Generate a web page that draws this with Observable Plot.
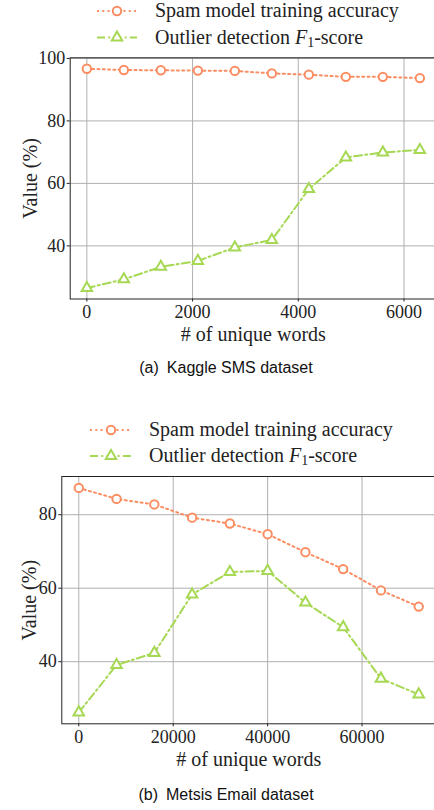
<!DOCTYPE html>
<html>
<head>
<meta charset="utf-8">
<script src="https://cdn.jsdelivr.net/npm/d3@7"></script>
<script src="https://cdn.jsdelivr.net/npm/@observablehq/plot@0.6"></script>
<style>
  html, body { margin: 0; padding: 0; background: #fff; }
  body { width: 434px; height: 810px; overflow: hidden; position: relative; }
  .abs { position: absolute; left: 0; }
  .caption { position: absolute; left: 0; width: 452px; text-align: center; font-family: "Liberation Sans", Arial, sans-serif; font-size: 16px; color: #111; white-space: pre; }
  #chart1 svg, #chart2 svg, #chart1 svg text, #chart2 svg text { font-family: "Liberation Serif", "Times New Roman", serif !important; }
  [aria-label="x-axis label"], [aria-label="y-axis label"] { font-size: 20px; }
</style>
</head>
<body>
<div id="leg1" class="abs" style="top:0"></div>
<div id="chart1" class="abs" style="top:0"></div>
<div id="cap1" class="caption"></div>
<div id="leg2" class="abs" style="top:400px"></div>
<div id="chart2" class="abs" style="top:400px"></div>
<div id="cap2" class="caption"></div>
<script>
// ---- data ----
const xSms = [0, 700, 1400, 2100, 2800, 3500, 4200, 4900, 5600, 6300];
const accSms = [96.7, 96.3, 96.2, 96.1, 96.0, 95.2, 94.8, 94.1, 94.1, 93.7];
const f1Sms = [26.5, 29.3, 33.3, 35.2, 39.5, 41.9, 58.2, 68.3, 69.9, 70.7];
const xEmail = [0, 8000, 16000, 24000, 32000, 40000, 48000, 56000, 64000, 72000];
const accEmail = [87.3, 84.3, 82.8, 79.2, 77.6, 74.7, 69.8, 65.2, 59.4, 55.0];
const f1Email = [26.2, 39.1, 42.4, 58.3, 64.4, 64.7, 56.1, 49.4, 35.4, 31.1];
const xTicksSms = [0, 2000, 4000, 6000];
const xTicksEmail = [0, 20000, 40000, 60000];
const yTicksSms = [40, 60, 80, 100];
const yTicksEmail = [40, 60, 80];
const seriesAcc = "Spam model training accuracy";
const seriesF1 = ["Outlier detection ", "F", "1", "-score"];
const xLabel = "# of unique words";
const yLabel = "Value (%)";
const captionSms = "(a)\u2002Kaggle SMS dataset";
const captionEmail = "(b)\u2002Metsis Email dataset";

const ORANGE = "#fc8d62";
const GREEN = "#a6d854";
const DASH_ACC = "2,3.3";
const DASH_F1 = "8,3.2,2,3.2";
const SERIF = "Liberation Serif";

function panel(opts) {
  const accData = opts.x.map((d, i) => ({x: d, y: opts.acc[i]}));
  const f1Data = opts.x.map((d, i) => ({x: d, y: opts.f1[i]}));
  return Plot.plot({
    width: 434,
    height: opts.height,
    marginTop: opts.mt,
    marginBottom: opts.mb,
    marginLeft: opts.ml,
    marginRight: opts.mr,
    style: {fontFamily: SERIF, fontSize: "18px", color: "#222", background: "transparent"},
    x: {domain: opts.xDomain},
    y: {domain: opts.yDomain},
    marks: [
      Plot.gridX(opts.xTicks, {stroke: "#b0b0b0", strokeOpacity: 1, strokeWidth: 1}),
      Plot.gridY(opts.yTicks, {stroke: "#b0b0b0", strokeOpacity: 1, strokeWidth: 1}),
      Plot.line(accData, {x: "x", y: "y", stroke: ORANGE, strokeWidth: 2, strokeDasharray: DASH_ACC}),
      Plot.line(f1Data, {x: "x", y: "y", stroke: GREEN, strokeWidth: 2, strokeDasharray: DASH_F1}),
      Plot.dot(accData, {x: "x", y: "y", r: 4.2, stroke: ORANGE, strokeWidth: 2, fill: "white"}),
      Plot.dot(f1Data, {x: "x", y: "y", r: 3.9, symbol: "triangle", stroke: GREEN, strokeWidth: 2, fill: "white"}),
      Plot.frame({stroke: "#222", strokeWidth: 1}),
      Plot.axisX({ticks: opts.xTicks, tickFormat: d => String(d), tickSize: 3, tickPadding: 3,
        fontFamily: SERIF, fontSize: 18,
        label: xLabel, labelAnchor: "center", labelOffset: opts.xLabelOffset, labelArrow: "none"}),
      Plot.axisY({ticks: opts.yTicks, tickFormat: d => String(d), tickSize: 3, tickPadding: 2,
        fontFamily: SERIF, fontSize: 18,
        label: yLabel, labelAnchor: "center", labelOffset: opts.yLabelOffset, labelArrow: "none"})
    ]
  });
}

function legend(el, o) {
  const svg = d3.select(el).append("svg").attr("width", 434).attr("height", o.h)
    .style("display", "block")
    .style("font-family", "'Liberation Serif', 'Times New Roman', serif").style("font-size", "20px");
  svg.append("line").attr("x1", o.x0).attr("x2", o.x1).attr("y1", o.y1).attr("y2", o.y1)
    .attr("stroke", ORANGE).attr("stroke-width", 2).attr("stroke-dasharray", DASH_ACC);
  svg.append("circle").attr("cx", (o.x0 + o.x1) / 2).attr("cy", o.y1).attr("r", 4.2)
    .attr("fill", "white").attr("stroke", ORANGE).attr("stroke-width", 2);
  svg.append("text").attr("x", o.tx).attr("y", o.y1 + 6).attr("fill", "#222").text(seriesAcc);
  svg.append("line").attr("x1", o.x0).attr("x2", o.x1).attr("y1", o.y2).attr("y2", o.y2)
    .attr("stroke", GREEN).attr("stroke-width", 2).attr("stroke-dasharray", DASH_F1);
  svg.append("path").attr("transform", `translate(${(o.x0 + o.x1) / 2},${o.y2})`)
    .attr("d", d3.symbol(d3.symbolTriangle, Math.PI * 3.9 * 3.9)())
    .attr("fill", "white").attr("stroke", GREEN).attr("stroke-width", 2);
  const t = svg.append("text").attr("x", o.tx).attr("y", o.y2 + 6).attr("fill", "#222");
  t.append("tspan").text(seriesF1[0]);
  t.append("tspan").attr("font-style", "italic").text(seriesF1[1]);
  t.append("tspan").attr("font-size", "14px").attr("dy", 3).text(seriesF1[2]);
  t.append("tspan").attr("dy", -3).text(seriesF1[3]);
}

legend(document.getElementById("leg1"), {h: 56, x0: 97, x1: 137, tx: 155, y1: 11, y2: 37.5});
legend(document.getElementById("leg2"), {h: 70, x0: 90, x1: 132, tx: 149, y1: 30, y2: 56});

document.getElementById("chart1").appendChild(panel({
  x: xSms, acc: accSms, f1: f1Sms,
  xDomain: [-315, 6615], yDomain: [23.0, 100.2],
  xTicks: xTicksSms, yTicks: yTicksSms,
  height: 350, mt: 57.3, mb: 51.5, ml: 69.7, mr: -2,
  xLabelOffset: 42, yLabelOffset: 47
}));
document.getElementById("chart2").appendChild(panel({
  x: xEmail, acc: accEmail, f1: f1Email,
  xDomain: [-3600, 75600], yDomain: [23.1, 90.4],
  xTicks: xTicksEmail, yTicks: yTicksEmail,
  height: 372, mt: 76, mb: 48.7, ml: 61.3, mr: -1.2,
  xLabelOffset: 42, yLabelOffset: 40
}));

const c1 = document.getElementById("cap1");
c1.textContent = captionSms; c1.style.top = "359px";
const c2 = document.getElementById("cap2");
c2.textContent = captionEmail; c2.style.top = "786px";
</script>
</body>
</html>
